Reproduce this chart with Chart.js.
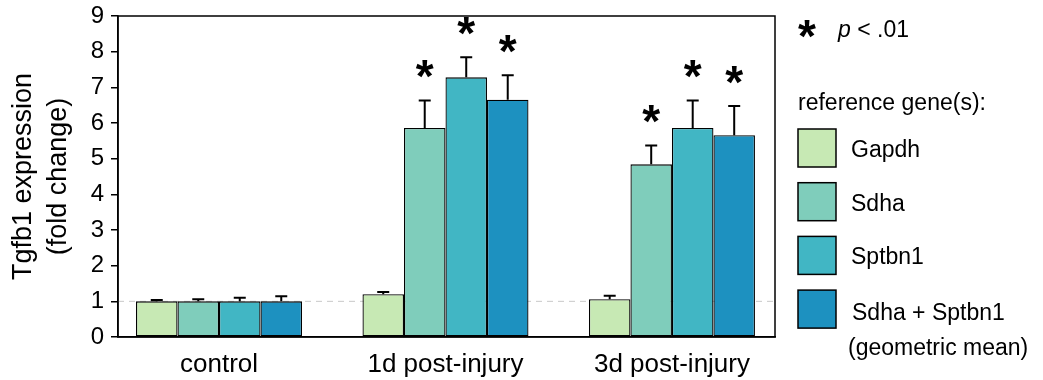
<!DOCTYPE html>
<html><head><meta charset="utf-8">
<script src="https://cdn.jsdelivr.net/npm/chart.js@4.4.0/dist/chart.umd.min.js"></script>
<style>html,body{margin:0;padding:0;background:#fff}#wrap{width:1043px;height:380px;position:relative}</style>
</head><body><div id="wrap"><canvas id="c" width="1043" height="380"></canvas></div>
<script>
// ---- data ----
const categories = ['control', '1d post-injury', '3d post-injury'];
const seriesNames = ['Gapdh', 'Sdha', 'Sptbn1', 'Sdha + Sptbn1'];
const seriesSubNames = ['', '', '', '(geometric mean)'];
const gapdhValues  = [1.00, 1.20, 1.06];
const sdhaValues   = [1.00, 5.86, 4.84];
const sptbn1Values = [1.00, 7.28, 5.86];
const comboValues  = [1.00, 6.65, 5.66];
const gapdhErrors  = [0.04, 0.06, 0.10];
const sdhaErrors   = [0.06, 0.77, 0.53];
const sptbn1Errors = [0.10, 0.56, 0.77];
const comboErrors  = [0.14, 0.69, 0.82];
const gapdhSig  = [false, false, false];
const sdhaSig   = [false, true, true];
const sptbn1Sig = [false, true, true];
const comboSig  = [false, true, true];
const yTickValues = [0, 1, 2, 3, 4, 5, 6, 7, 8, 9];
const referenceLevel = 1;
const sigLabel = 'p < .01';
const legendTitle = 'reference gene(s):';
const yTitle = ['Tgfb1 expression', '(fold change)'];

const values = [gapdhValues, sdhaValues, sptbn1Values, comboValues];
const errors = [gapdhErrors, sdhaErrors, sptbn1Errors, comboErrors];
const sigs = [gapdhSig, sdhaSig, sptbn1Sig, comboSig];
const colors = ['#c7e9b4', '#7fcdbb', '#41b6c4', '#1d91c0'];
const FONT = '"Liberation Sans", Arial, Helvetica, sans-serif';
const STAR = 46;

const overlay = {
  id: 'overlay',
  beforeDatasetsDraw(chart) {
    const {ctx, chartArea: a, scales: {y}} = chart;
    const py = y.getPixelForValue(referenceLevel);
    ctx.save();
    ctx.strokeStyle = '#c8c8c8'; ctx.lineWidth = 1; ctx.setLineDash([6, 5]);
    ctx.beginPath(); ctx.moveTo(a.left, py); ctx.lineTo(a.right, py); ctx.stroke();
    ctx.restore();
  },
  afterDatasetsDraw(chart) {
    const {ctx, chartArea: a, scales: {y}} = chart;
    ctx.save();
    chart.data.datasets.forEach((ds, i) => {
      const meta = chart.getDatasetMeta(i);
      meta.data.forEach((bar, j) => {
        const top = y.getPixelForValue(values[i][j] + errors[i][j]);
        ctx.strokeStyle = '#000'; ctx.lineWidth = 2;
        ctx.beginPath();
        ctx.moveTo(bar.x, bar.y); ctx.lineTo(bar.x, top);
        ctx.moveTo(bar.x - 6, top); ctx.lineTo(bar.x + 6, top);
        ctx.stroke();
        if (sigs[i][j]) {
          ctx.fillStyle = '#000';
          ctx.font = 'bold ' + STAR + 'px ' + FONT;
          ctx.textAlign = 'center'; ctx.textBaseline = 'alphabetic';
          ctx.fillText('*', bar.x, top - 29 + 0.45 * STAR);
        }
      });
    });
    ctx.strokeStyle = '#000'; ctx.lineWidth = 1.5;
    ctx.strokeRect(a.left, a.top, a.right - a.left, a.bottom - a.top);
    ctx.restore();
  },
  afterDraw(chart) {
    const {ctx, chartArea: a} = chart;
    const lx = a.right + 23;
    ctx.save();
    ctx.fillStyle = '#000';
    ctx.textAlign = 'center'; ctx.textBaseline = 'alphabetic';
    ctx.font = 'bold ' + STAR + 'px ' + FONT;
    ctx.fillText('*', lx + 9, 31 + 0.45 * STAR);
    ctx.textAlign = 'left';
    ctx.font = 'italic 23px ' + FONT;
    const px = lx + 40;
    ctx.fillText(sigLabel.slice(0, 1), px, 37);
    const w = ctx.measureText(sigLabel.slice(0, 1)).width;
    ctx.font = '23px ' + FONT;
    ctx.fillText(sigLabel.slice(1), px + w, 37);
    ctx.fillText(legendTitle, lx, 110);
    seriesNames.forEach((n, i) => {
      const by = 129 + i * 53.7;
      ctx.fillStyle = colors[i];
      ctx.fillRect(lx, by, 38, 38);
      ctx.strokeStyle = '#000'; ctx.lineWidth = 1.5;
      ctx.strokeRect(lx, by, 38, 38);
      ctx.fillStyle = '#000';
      if (seriesSubNames[i]) {
        ctx.fillText(n, lx + 54, by + 30);
        ctx.fillText(seriesSubNames[i], lx + 50, by + 65);
      } else {
        ctx.fillText(n, lx + 53, by + 28);
      }
    });
    ctx.restore();
  }
};

new Chart(document.getElementById('c'), {
  type: 'bar',
  data: {
    datasets: seriesNames.map((n, i) => ({
      label: n,
      data: values[i].map((v, j) => ({x: j, y: v})),
      backgroundColor: colors[i],
      borderColor: '#000',
      borderWidth: 1.3,
      borderSkipped: false,
      categoryPercentage: 0.733,
      barPercentage: 1.0
    }))
  },
  options: {
    responsive: false,
    animation: false,
    layout: {padding: {left: 6, right: 268, top: 16, bottom: 0}},
    plugins: {legend: {display: false}, tooltip: {enabled: false}},
    scales: {
      x: {
        type: 'linear', min: -0.446, max: 2.455, offset: false,
        grid: {display: false},
        border: {display: true, color: '#000', width: 1.5},
        afterBuildTicks: s => { s.ticks = categories.map((c, i) => ({value: i})); },
        ticks: {callback: v => categories[v], color: '#000', font: {family: FONT, size: 26}, padding: 4, maxRotation: 0, autoSkip: false},
        afterFit: s => { s.height = 43; s.paddingLeft = 0; s.paddingRight = 0; }
      },
      y: {
        min: 0, max: 9,
        afterBuildTicks: s => { s.ticks = yTickValues.map(v => ({value: v})); },
        ticks: {color: '#000', font: {family: FONT, size: 24}, padding: 7},
        grid: {display: true, drawOnChartArea: false, drawTicks: true, tickLength: 7, color: '#000', lineWidth: 1.5},
        border: {display: true, color: '#000', width: 1.5},
        title: {display: true, text: yTitle, color: '#000', font: {family: FONT, size: 27, lineHeight: 1.3}, padding: {top: 0, bottom: 0}},
        afterFit: s => { s.width = 112; s.paddingTop = 0; s.paddingBottom = 0; }
      }
    }
  },
  plugins: [overlay]
});
</script>
</body></html>
